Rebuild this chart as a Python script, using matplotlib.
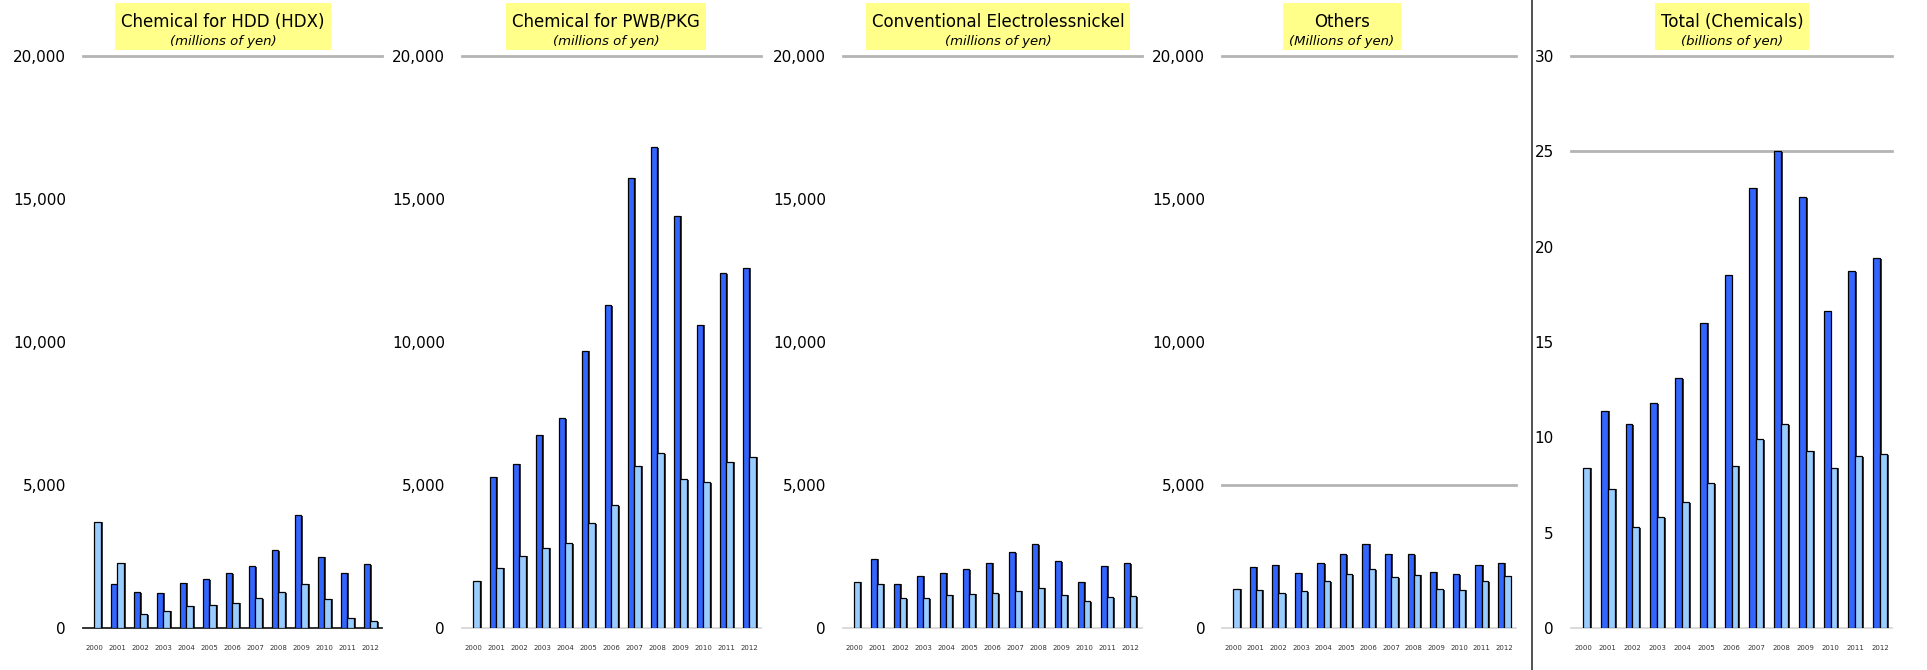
import numpy as np
import matplotlib
matplotlib.use("Agg")
import matplotlib.pyplot as plt
import matplotlib.patheffects as pe
from matplotlib.patches import Rectangle
from matplotlib.lines import Line2D

# ---------------------------------------------------------
# Sales by product line, 2000-2012 (2000 has only the light series)
# ---------------------------------------------------------
years = [str(y) for y in range(2000, 2013)]
nan = np.nan

hdd_dark = [nan, 1545, 1250, 1230, 1590, 1710, 1920, 2165, 2725, 3940, 2500, 1930, 2235]
hdd_light = [3710, 2280, 480, 600, 780, 820, 890, 1050, 1250, 1545, 1030, 360, 245]

pwb_dark = [nan, 5290, 5750, 6755, 7335, 9700, 11290, 15740, 16810, 14415, 10600, 12405, 12590]
pwb_light = [1650, 2100, 2525, 2800, 2970, 3670, 4290, 5680, 6105, 5200, 5090, 5820, 5990]

eln_dark = [nan, 2430, 1545, 1825, 1940, 2060, 2290, 2645, 2925, 2340, 1625, 2175, 2270]
eln_light = [1625, 1545, 1050, 1050, 1160, 1195, 1220, 1310, 1415, 1160, 935, 1075, 1110]

oth_dark = [nan, 2150, 2205, 1930, 2265, 2570, 2940, 2590, 2580, 1960, 1880, 2220, 2290]
oth_light = [1370, 1335, 1210, 1290, 1640, 1880, 2055, 1775, 1860, 1350, 1335, 1640, 1810]

tot_dark = [nan, 11.4, 10.7, 11.8, 13.1, 16.0, 18.5, 23.1, 25.0, 22.6, 16.6, 18.7, 19.4]
tot_light = [8.4, 7.3, 5.3, 5.8, 6.6, 7.6, 8.5, 9.9, 10.7, 9.3, 8.4, 9.0, 9.1]

titles = ["Chemical for HDD (HDX)", "Chemical for PWB/PKG",
          "Conventional Electrolessnickel", "Others", "Total (Chemicals)"]
subtitles = ["(millions of yen)", "(millions of yen)", "(millions of yen)",
             "(Millions of yen)", "(billions of yen)"]

# ---------------------------------------------------------
# Layout (pixels of a 1927x670 canvas)
# ---------------------------------------------------------
W, H = 1927, 670
DARK = "#3366ff"
LIGHT = "#99ccff"
GRID = "#b4b4b4"

panels = [
    dict(dark=hdd_dark, light=hdd_light, left=82.7, right=382, ymax=20000, step=5000,
         grid=[20000], cx=223, base="#222222"),
    dict(dark=pwb_dark, light=pwb_light, left=461.7, right=761, ymax=20000, step=5000,
         grid=[20000], cx=606, base="#d8d8d8"),
    dict(dark=eln_dark, light=eln_light, left=842.5, right=1141.5, ymax=20000, step=5000,
         grid=[20000], cx=998, base="#d8d8d8"),
    dict(dark=oth_dark, light=oth_light, left=1222, right=1515.5, ymax=20000, step=5000,
         grid=[20000, 5000], cx=1342, base="#d8d8d8"),
    dict(dark=tot_dark, light=tot_light, left=1570.6, right=1892.4, ymax=30, step=5,
         grid=[30, 25], cx=1732, base="#d8d8d8"),
]

fig = plt.figure(figsize=(W / 100, H / 100), dpi=100)
fig.patch.set_facecolor("white")

y_top, y_bot = 56, 628
x = np.arange(len(years))
w = 0.28
shadow = [pe.SimplePatchShadow(offset=(1.4, -0.4), shadow_rgbFace="black", alpha=0.75),
          pe.Normal()]

title_texts = []
for i, p in enumerate(panels):
    ax = fig.add_axes([p["left"] / W, (H - y_bot) / H,
                       (p["right"] - p["left"]) / W, (y_bot - y_top) / H])
    ax.bar(x - w / 2, p["dark"], w, color=DARK, edgecolor="black", linewidth=0.9,
           path_effects=shadow, zorder=3)
    ax.bar(x + w / 2, p["light"], w, color=LIGHT, edgecolor="black", linewidth=0.9,
           path_effects=shadow, zorder=3)

    for g in p["grid"]:
        ax.axhline(g, color=GRID, lw=2, zorder=1, clip_on=False)
    ax.axhline(0, color=p["base"], lw=1.3, zorder=2, clip_on=False)

    ax.set_xlim(-0.5, len(years) - 0.5)
    ax.set_ylim(0, p["ymax"])
    ticks = np.arange(0, p["ymax"] + 1, p["step"])
    ax.set_yticks(ticks)
    if p["ymax"] > 100:
        ax.set_yticklabels([f"{int(t):,}" for t in ticks])
    else:
        ax.set_yticklabels([str(int(t)) for t in ticks])
    ax.set_xticks(x)
    ax.set_xticklabels(years)
    ax.tick_params(axis="y", length=0, pad=12, labelsize=11)
    ax.tick_params(axis="x", length=0, pad=12, labelsize=5, labelcolor="#333333")
    for s in ax.spines.values():
        s.set_visible(False)
    ax.patch.set_alpha(0)

    t1 = fig.text(p["cx"] / W, 1 - 22 / H, titles[i], ha="center", va="center",
                  fontsize=12, zorder=3)
    t2 = fig.text(p["cx"] / W, 1 - 41 / H, subtitles[i], ha="center", va="center",
                  fontsize=9.5, style="italic", zorder=3)
    title_texts.append((t1, t2))

# Yellow label boxes sized to the title text
fig.canvas.draw()
r = fig.canvas.get_renderer()
for t1, t2 in title_texts:
    e1 = t1.get_window_extent(r)
    e2 = t2.get_window_extent(r)
    x0 = min(e1.x0, e2.x0) - 6
    x1 = max(e1.x1, e2.x1) + 6
    box = Rectangle((x0 / W, (H - 50) / H), (x1 - x0) / W, 47 / H,
                    transform=fig.transFigure, facecolor="#ffff8a",
                    edgecolor="none", zorder=0.5)
    fig.patches.append(box)

# Separator between the segment panels and the total
fig.add_artist(Line2D([1532 / W, 1532 / W], [0, 1], transform=fig.transFigure,
                      color="#333333", lw=1.2))

plt.savefig("out.png", dpi=100)
